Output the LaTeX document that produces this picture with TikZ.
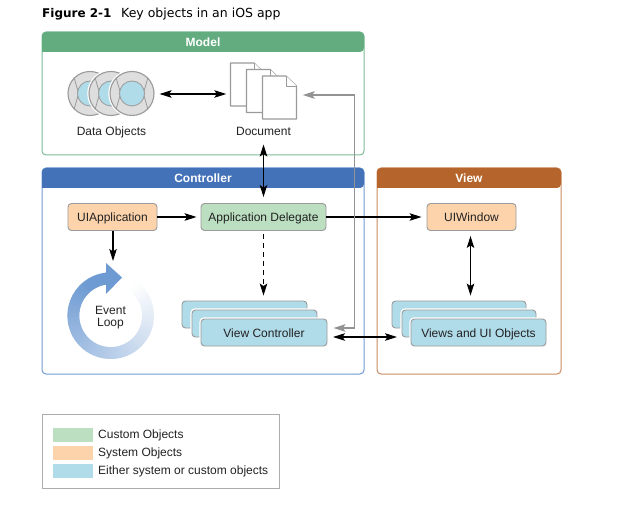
\documentclass[tikz,border=0pt]{standalone}
\usepackage{fontspec}
\setmainfont{Liberation Sans}
\newfontfamily\titlefont{DejaVu Sans}
\usepackage{xcolor}
\usetikzlibrary{arrows.meta,positioning,calc}
\definecolor{modelgreen}{HTML}{63AC80}
\definecolor{modeledge}{HTML}{7DBB97}
\definecolor{ctrlblue}{HTML}{4372B8}
\definecolor{ctrledge}{HTML}{6F9AD3}
\definecolor{viewbrown}{HTML}{B5652B}
\definecolor{viewedge}{HTML}{CA8B5E}
\definecolor{objgreen}{HTML}{BBDFC0}
\definecolor{objorange}{HTML}{FDD3AC}
\definecolor{objblue}{HTML}{B0DBE9}
\definecolor{ringblue}{HTML}{6D9AD2}
\definecolor{objedge}{HTML}{9A9A9A}
\definecolor{diskgray}{HTML}{DEDEDE}
\definecolor{inkgray}{HTML}{222222}
\newcommand{\labelfont}{\fontsize{12}{12}\selectfont}

\begin{document}
\begin{tikzpicture}[
  x=1pt,y=-1pt,
  panel/.style={draw, line width=1pt, rounded corners=4pt, fill=white, minimum height=#1, inner sep=0pt},
  head/.style={font=\labelfont\bfseries, text=white, text height=11pt, text depth=2pt, inner sep=0pt},
  obj/.style={draw=objedge, line width=0.9pt, rounded corners=3.5pt, minimum height=27pt, inner sep=0pt, font=\labelfont, text=inkgray, text height=11pt, text depth=2pt},
  stacked/.style={obj, fill=objblue, preaction={draw=white, line width=3.5pt}},
  caption/.style={font=\labelfont, text=inkgray, text height=11pt, text depth=2pt},
  swatch/.style={minimum width=40pt, minimum height=14pt, inner sep=0pt},
  tipped/.style={line width=1.1pt, >={Stealth[length=12pt,width=7.5pt,inset=2.5pt]}},
  link/.style={tipped, ->},
  bilink/.style={tipped, <->},
  greylink/.style={bilink, line width=1.4pt, draw=gray!85, color=gray!85},
  sheet/.style={draw=objedge, line width=1.1pt, fill=white, line join=round}
]
\useasboundingbox (0,0) rectangle (642,521);

\node[anchor=base west, font=\titlefont\fontsize{12}{13}\selectfont\bfseries, inner sep=0pt] (figno) at (42,18) {Figure 2-1};
\node[anchor=base west, font=\titlefont\fontsize{12.5}{13}\selectfont, inner sep=0pt] (figtitle) at (121,18) {Key objects in an iOS app};

% panels
\node[panel=123pt, draw=modeledge, minimum width=322pt] (modelbox) at (203,93.5) {};
\fill[modelgreen, rounded corners=4pt] (42,52) -- (42,32) -- (364,32) -- (364,52) [sharp corners] -- cycle;
\node[head] (modelhead) at (203,42.5) {Model};
\node[panel=206pt, draw=ctrledge, minimum width=322pt] (ctrlbox) at (203,271) {};
\fill[ctrlblue, rounded corners=4pt] (42,188) -- (42,168) -- (364,168) -- (364,188) [sharp corners] -- cycle;
\node[head] (ctrlhead) at (203,178) {Controller};
\node[panel=206pt, draw=viewedge, minimum width=184pt] (viewbox) at (469,271) {};
\fill[viewbrown, rounded corners=4pt] (377,188) -- (377,168) -- (561,168) -- (561,188) [sharp corners] -- cycle;
\node[head] (viewhead) at (469,178) {View};

% data objects
\foreach \n/\cx in {1/90,2/111,3/132} {
  \node[circle, draw=objedge, line width=1.1pt, fill=diskgray, minimum size=44pt, inner sep=0pt,
    preaction={draw=white, line width=3.5pt}] (data\n) at (\cx,93.5) {};
  \foreach \a in {45,135,225,315}
    \draw[objedge, line width=0.8pt] (data\n.center) ++(\a:12.5) -- (data\n.\a);
  \node[circle, draw=objedge, line width=0.8pt, fill=objblue, minimum size=25pt, inner sep=0pt] (core\n) at (\cx,93.5) {};
}
\node[caption] (datalabel) at (111.5,131.5) {Data Objects};

% document sheets
\foreach \n/\dx/\dy in {1/0/0,2/16/6.5,3/32/13} {
  \draw[sheet] (230.5+\dx,63+\dy) -- (254+\dx,63+\dy) -- (264.5+\dx,73+\dy) -- (264.5+\dx,106+\dy) -- (230.5+\dx,106+\dy) -- cycle;
  \draw[sheet, line width=0.8pt] (254+\dx,63+\dy) -- (254+\dx,73+\dy) -- (264.5+\dx,73+\dy);
}
\node[minimum width=66pt, minimum height=56pt, inner sep=0pt] (docstack) at (263.5,91) {};
\node[caption] (doclabel) at (263.5,131.5) {Document};

% objects
\node[obj, fill=objorange, minimum width=89pt] (uiapp) at (112.5,217) {UIApplication};
\node[obj, fill=objgreen, minimum width=125pt] (delegate) at (263.5,217) {Application Delegate};
\node[obj, fill=objorange, minimum width=89pt] (uiwindow) at (471.5,217) {UIWindow};
\node[stacked, minimum width=125pt] (vcback) at (244.5,314.5) {};
\node[stacked, minimum width=125pt] (vcmid) at (254.5,323.5) {};
\node[stacked, minimum width=126pt] (vcfront) at (264,332.5) {View Controller};
\node[stacked, minimum width=134pt] (viewsback) at (459,314.5) {};
\node[stacked, minimum width=134pt] (viewsmid) at (469,323.5) {};
\node[stacked, minimum width=135pt] (viewsfront) at (478.5,332.5) {Views and UI Objects};

% event loop
\foreach \a in {92,96,...,408} {
  \pgfmathsetmacro{\mixval}{max(0,min(100,(412-\a)/2.9))}
  \fill[ringblue!\mixval!white] ({110.7+43.3*cos(\a)},{315.7-43.3*sin(\a)}) -- ({110.7+43.3*cos(\a+5)},{315.7-43.3*sin(\a+5)})
    -- ({110.7+31.4*cos(\a+5)},{315.7-31.4*sin(\a+5)}) -- ({110.7+31.4*cos(\a)},{315.7-31.4*sin(\a)}) -- cycle;
}
\fill[ringblue] (106,263) -- (122,277.5) -- (106,294) -- cycle;
\node[align=center, font=\labelfont, text=inkgray, inner sep=0pt] (looplabel) at (110.5,318) {Event\\Loop};
\coordinate (looptop) at (113,261);

% connectors
\coordinate (datalink) at (192,94);
\draw[bilink, shorten <=5pt, shorten >=4pt] (data3.east |- datalink) -- (docstack.west |- datalink);
\draw[bilink, shorten <=3pt, shorten >=6pt] (doclabel) -- (delegate);
\draw[link, shorten >=4pt] (uiapp) -- (delegate);
\draw[link] (uiapp.south -| looptop) -- (looptop);
\draw[link, shorten >=5pt] (delegate) -- (uiwindow);
\draw[tipped, ->, dash pattern=on 5pt off 4pt, shorten <=3pt, shorten >=5pt] (delegate.south) -- (delegate.south |- vcback.north);
\coordinate (windowlink) at (470.5,262);
\draw[bilink, shorten <=5pt, shorten >=5pt] (uiwindow.south -| windowlink) -- (viewsback.north -| windowlink);
\coordinate (turnhigh) at (354.5,95);
\coordinate (turnlow) at (354.5,328);
\coordinate (linkvc) at (327,337);
\coordinate (linkviews) at (411,337);
\draw[greylink, shorten <=6pt, shorten >=6pt] (docstack.east |- turnhigh) -- (turnhigh) -- (turnlow) -- (vcfront.east |- turnlow);
\draw[bilink, shorten <=6pt, shorten >=14pt] (linkvc) -- (linkviews);

% legend
\node[draw=gray!65, line width=1pt, minimum width=237pt, minimum height=74pt, inner sep=0pt] (legendbox) at (161,451) {};
\node[swatch, fill=objgreen] (swatchcustom) at (73,435) {};
\node[swatch, fill=objorange] (swatchsystem) at (73,453) {};
\node[swatch, fill=objblue] (swatcheither) at (73,471) {};
\node[caption, anchor=west, inner sep=0pt] (textcustom) at (98,433.5) {Custom Objects};
\node[caption, anchor=west, inner sep=0pt] (textsystem) at (98,451.5) {System Objects};
\node[caption, anchor=west, inner sep=0pt] (texteither) at (98,469.5) {Either system or custom objects};
\end{tikzpicture}
\end{document}
